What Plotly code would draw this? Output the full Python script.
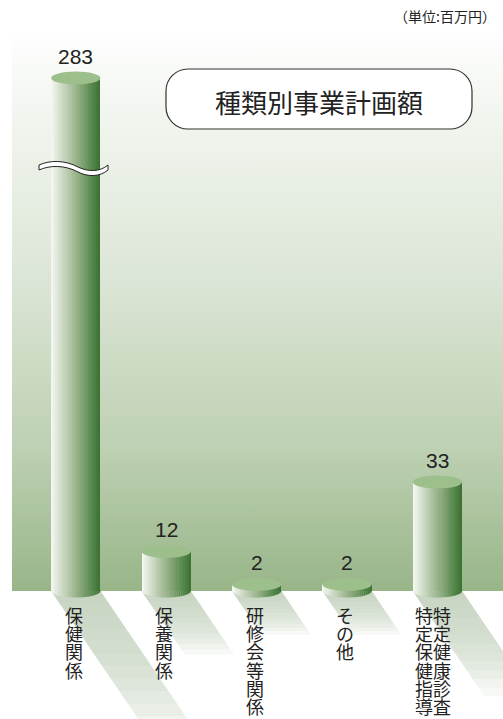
import base64
import math
import plotly.graph_objects as go

# ---------------- data ----------------
categories = ["保健関係", "保養関係", "研修会等関係", "その他", "特定健康診査・特定保健指導"]
values = [283, 12, 2, 2, 33]
value_labels = ["283", "12", "2", "2", "33"]
title_text = "種類別事業計画額"
unit_text = "（単位:百万円）"

# ---------------- layout constants ----------------
W, H = 503, 719
PLOT_L, PLOT_R, PLOT_T, PLOT_B = 12, 503, 30, 591
BREAK_PX = 168                      # pixel row of the axis break
PX_PER_UNIT = 3.3
LOW_RANGE = [0, (PLOT_B - BREAK_PX) / PX_PER_UNIT]
HIGH_RANGE = [283 - (BREAK_PX - 78) / PX_PER_UNIT, 283 + (78 - PLOT_T) / PX_PER_UNIT]
SPLIT = (PLOT_B - BREAK_PX) / (PLOT_B - PLOT_T)
X0_PX, X_UNIT_PX = 75.8, 90.4
X_RANGE = [(PLOT_L - X0_PX) / X_UNIT_PX, (PLOT_R - X0_PX) / X_UNIT_PX]
BAR_W = 0.545
ELL_RY = 6.5
PAPER_PER_PX = 1 / (PLOT_B - PLOT_T)


def px_x(p):
    return (p - PLOT_L) / (PLOT_R - PLOT_L)


def px_y(p):
    return (PLOT_B - p) / (PLOT_B - PLOT_T)


def hex2rgb(h):
    h = h.lstrip("#")
    return tuple(int(h[i:i + 2], 16) for i in (0, 2, 4))


def interp(stops, t):
    for (t0, c0), (t1, c1) in zip(stops, stops[1:]):
        if t0 <= t <= t1:
            f = (t - t0) / (t1 - t0) if t1 > t0 else 0
            a, b = hex2rgb(c0), hex2rgb(c1)
            return "rgb(%d,%d,%d)" % tuple(round(a[k] + (b[k] - a[k]) * f) for k in range(3))
    return stops[-1][1]


CYL_STOPS = [(0, "#f7f9f5"), (0.12, "#e0e8da"), (0.35, "#b5c8aa"),
             (0.6, "#87a778"), (0.85, "#52864a"), (1.0, "#3c7032")]
TOP_COLOR = "#9dbf8c"

fig = go.Figure()
xs = list(range(len(categories)))

# cylinders as sliced bars (gradient), on both halves of the broken axis
N = 24
for yax in ("y", "y2"):
    for k in range(N):
        off = -BAR_W / 2 + k * BAR_W / N
        fig.add_trace(go.Bar(
            x=xs, y=values, yaxis=yax,
            offset=off, width=BAR_W / 2 - off,
            marker=dict(color=interp(CYL_STOPS, (k + 0.5) / N), line=dict(width=0)),
            hoverinfo="skip", showlegend=False,
        ))

shapes = []

# background gradient panel
svg = ('<svg xmlns="http://www.w3.org/2000/svg" width="100" height="100" viewBox="0 0 100 100" '
       'preserveAspectRatio="none"><defs><linearGradient id="g" x1="0" y1="0" x2="0" y2="1">'
       '<stop offset="0" stop-color="#ffffff"/><stop offset="0.12" stop-color="#f4f7f2"/>'
       '<stop offset="0.45" stop-color="#dbe5d5"/><stop offset="0.75" stop-color="#bdd0b2"/>'
       '<stop offset="1" stop-color="#98b588"/></linearGradient></defs>'
       '<rect width="100" height="100" fill="url(#g)"/></svg>')
src = "data:image/svg+xml;base64," + base64.b64encode(svg.encode()).decode()
images = [dict(source=src, xref="paper", yref="paper", x=0, y=1, sizex=1, sizey=1,
               sizing="stretch", layer="below", xanchor="left", yanchor="top")]

# shadows below the panel
for i, v in enumerate(values):
    hpx = min(v * PX_PER_UNIT, 400)
    L = min(40 + 0.6 * hpx, 150)
    n = 12
    for j in range(n):
        t = (j + 1) / n
        Lp = L * t
        dx = 0.68 * Lp / X_UNIT_PX
        xl, xr = i - BAR_W / 2, i + BAR_W / 2
        yb = -Lp * PAPER_PER_PX
        shapes.append(dict(
            type="path", xref="x", yref="paper", layer="below",
            path=f"M {xl},0 L {xr},0 L {xr + dx},{yb} L {xl + dx},{yb} Z",
            fillcolor="#bfcbb6", opacity=0.12, line=dict(width=0),
        ))

# rounded cylinder bottoms (lower half-ellipse, same gradient slices)
for i, v in enumerate(values):
    for k in range(N):
        a = -BAR_W / 2 + k * BAR_W / N
        b = a + BAR_W / N + 0.002
        pts = []
        steps = 3
        for s in range(steps + 1):
            xx = a + (b - a) * s / steps
            u = max(0.0, 1 - (2 * xx / BAR_W) ** 2)
            pts.append((i + xx, -ELL_RY * math.sqrt(u) * PAPER_PER_PX))
        path = f"M {i + a},0.001 L {i + b},0.001 " + " ".join(
            f"L {x_},{y_}" for x_, y_ in reversed(pts)) + " Z"
        shapes.append(dict(type="path", xref="x", yref="paper", layer="below", path=path,
                           fillcolor=interp(CYL_STOPS, (k + 0.5) / N), line=dict(width=0)))

# cylinder tops
for i, v in enumerate(values):
    yref = "y2" if v > LOW_RANGE[1] else "y"
    shapes.append(dict(
        type="circle", xref="x", yref=yref, ysizemode="pixel", yanchor=v,
        x0=i - BAR_W / 2, x1=i + BAR_W / 2, y0=-ELL_RY, y1=ELL_RY,
        fillcolor=TOP_COLOR, line=dict(width=0), layer="above",
    ))

# axis-break wave on the tall bar
wave = (f"M {px_x(39)},{px_y(165)} C {px_x(50)},{px_y(160)} {px_x(65)},{px_y(160)} {px_x(78)},{px_y(167)} "
        f"C {px_x(88)},{px_y(172)} {px_x(100)},{px_y(172)} {px_x(108)},{px_y(165)} "
        f"L {px_x(108)},{px_y(170)} C {px_x(100)},{px_y(177)} {px_x(88)},{px_y(177)} {px_x(78)},{px_y(172)} "
        f"C {px_x(65)},{px_y(165)} {px_x(50)},{px_y(165)} {px_x(39)},{px_y(170)} Z")
shapes.append(dict(type="path", xref="paper", yref="paper", path=wave,
                   fillcolor="white", line=dict(color="#222", width=1), layer="above"))

# title box (rounded rectangle)
bx0, bx1, by0, by1, r = 166, 472, 69, 129, 22
c = r * 0.448
box = (f"M {px_x(bx0 + r)},{px_y(by0)} L {px_x(bx1 - r)},{px_y(by0)} "
       f"C {px_x(bx1 - c)},{px_y(by0)} {px_x(bx1)},{px_y(by0 + c)} {px_x(bx1)},{px_y(by0 + r)} "
       f"L {px_x(bx1)},{px_y(by1 - r)} "
       f"C {px_x(bx1)},{px_y(by1 - c)} {px_x(bx1 - c)},{px_y(by1)} {px_x(bx1 - r)},{px_y(by1)} "
       f"L {px_x(bx0 + r)},{px_y(by1)} "
       f"C {px_x(bx0 + c)},{px_y(by1)} {px_x(bx0)},{px_y(by1 - c)} {px_x(bx0)},{px_y(by1 - r)} "
       f"L {px_x(bx0)},{px_y(by0 + r)} "
       f"C {px_x(bx0)},{px_y(by0 + c)} {px_x(bx0 + c)},{px_y(by0)} {px_x(bx0 + r)},{px_y(by0)} Z")
shapes.append(dict(type="path", xref="paper", yref="paper", path=box,
                   fillcolor="white", line=dict(color="#333", width=1.2), layer="above"))

annotations = []
NUM_FONT = dict(family="Liberation Sans, Arial, sans-serif", size=21, color="#222")
JP_FONT = "Noto Sans CJK JP, sans-serif"

# value labels
for i, (v, lab) in enumerate(zip(values, value_labels)):
    yref = "y2" if v > LOW_RANGE[1] else "y"
    annotations.append(dict(x=i, y=v, xref="x", yref=yref, text=lab, showarrow=False,
                            yanchor="middle", yshift=22, font=NUM_FONT))

# vertical category labels (one glyph per line, columns right-to-left)
for i, cat in enumerate(categories):
    cols = cat.split("・")
    shifts = [-2] if len(cols) == 1 else [5, -13]
    for col, xs_ in zip(cols, shifts):
        for k, ch in enumerate(col):
            annotations.append(dict(x=i, y=0, xref="x", yref="paper", text=ch, showarrow=False,
                                    xanchor="center", yanchor="middle", xshift=xs_,
                                    yshift=-(24 + 18.2 * k),
                                    font=dict(family=JP_FONT, size=18, color="#222")))

# title text
annotations.append(dict(x=px_x((bx0 + bx1) / 2), y=px_y(101), xref="paper", yref="paper",
                        text=title_text, showarrow=False, xanchor="center", yanchor="middle",
                        font=dict(family=JP_FONT, size=26, color="#222")))
# unit text
annotations.append(dict(x=px_x(498), y=px_y(16), xref="paper", yref="paper", text=unit_text,
                        showarrow=False, xanchor="right", yanchor="middle",
                        font=dict(family=JP_FONT, size=14, color="#222")))

axis_off = dict(showgrid=False, zeroline=False, showticklabels=False, showline=False, ticks="")
fig.update_layout(
    width=W, height=H,
    margin=dict(l=PLOT_L, r=W - PLOT_R, t=PLOT_T, b=H - PLOT_B, pad=0),
    paper_bgcolor="white", plot_bgcolor="rgba(0,0,0,0)",
    barmode="overlay", bargap=0,
    xaxis=dict(range=X_RANGE, **axis_off),
    yaxis=dict(range=LOW_RANGE, domain=[0, SPLIT], **axis_off),
    yaxis2=dict(range=HIGH_RANGE, domain=[SPLIT, 1], anchor="x", **axis_off),
    shapes=shapes, annotations=annotations, images=images,
    showlegend=False, hovermode=False,
)

fig.write_html("out.html", config={"displayModeBar": False},
               post_script="document.body.style.margin='0';document.body.style.overflow='hidden';")
